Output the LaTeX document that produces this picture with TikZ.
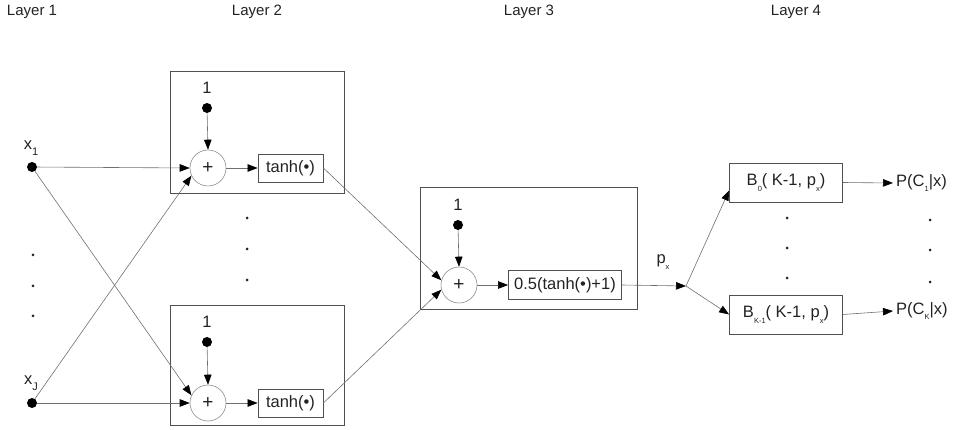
\documentclass[tikz,border=0pt]{standalone}
\usepackage{fontspec}
\setmainfont{Liberation Sans}
\usetikzlibrary{arrows.meta}
\newcommand\xsub[1]{\raisebox{-0.7ex}{\fontsize{11}{10}\selectfont #1}}
\newcommand\tsub[1]{\raisebox{-0.6ex}{\fontsize{7.5}{7}\selectfont #1}}
\definecolor{ln}{HTML}{707070}
\definecolor{fr}{HTML}{505050}
\definecolor{tx}{HTML}{222222}
\begin{document}
\begin{tikzpicture}[x=1pt,y=-1pt,
  lbl/.style={inner sep=0pt,text=tx,font=\fontsize{15}{17}\selectfont},
  big/.style={inner sep=0pt,text=tx,font=\fontsize{16.5}{18}\selectfont},
  bigdot/.style={circle,fill=black,inner sep=0pt,minimum size=10pt},
  smalldot/.style={circle,fill=tx,inner sep=0pt,minimum size=3pt},
  frame/.style={draw=fr,line width=0.9pt,inner sep=0pt},
  sumc/.style={circle,draw=ln!80,line width=0.6pt,inner sep=0pt,minimum size=36pt,text=tx,font=\fontsize{19}{20}\selectfont},
  fbox/.style={draw=fr,line width=0.8pt,inner sep=0pt,text=tx,font=\fontsize{16.5}{18}\selectfont},
  conn/.style={draw=ln,line width=0.6pt,-{Triangle[length=10pt,width=7.5pt,color=black]}},
  plain/.style={draw=ln,line width=0.6pt}]
\useasboundingbox (0,0) rectangle (962,430);
% layer titles
\node[lbl] (L1) at (32,12) {Layer 1};
\node[lbl] (L2) at (257,12) {Layer 2};
\node[lbl] (L3) at (529,12) {Layer 3};
\node[lbl] (L4) at (796,12) {Layer 4};
% layer 1
\node[big] (x1l) at (31,148) {x\xsub{1}};
\node[bigdot] (x1) at (32,167) {};
\node[big] (xJl) at (31,383) {x\xsub{J}};
\node[bigdot] (xJ) at (32,403) {};
\node[smalldot] (d1a) at (33,255) {};
\node[smalldot] (d1b) at (33,286) {};
\node[smalldot] (d1c) at (33,316) {};
% layer 2 top
\node[frame,minimum width=174pt,minimum height=122pt] (boxA) at (257,132) {};
\node[big] (oneA) at (207,88) {1};
\node[bigdot] (bA) at (207,108) {};
\node[sumc] (sA) at (208,168) {+};
\node[fbox,minimum width=65pt,minimum height=28pt] (tA) at (290.5,168) {tanh(•)};
% layer 2 bottom
\node[frame,minimum width=174pt,minimum height=120pt] (boxB) at (257,365) {};
\node[big] (oneB) at (207,322) {1};
\node[bigdot] (bB) at (207,342) {};
\node[sumc] (sB) at (208,403) {+};
\node[fbox,minimum width=65pt,minimum height=28pt] (tB) at (290.5,403) {tanh(•)};
\node[smalldot] (d2a) at (247,218) {};
\node[smalldot] (d2b) at (247,249) {};
\node[smalldot] (d2c) at (247,280) {};
% layer 3
\node[frame,minimum width=217pt,minimum height=122pt] (boxC) at (528.5,248) {};
\node[big] (oneC) at (458,205) {1};
\node[bigdot] (bC) at (458,225) {};
\node[sumc] (sC) at (459,285) {+};
\node[fbox,minimum width=113pt,minimum height=29pt] (fC) at (565,285) {0.5(tanh(•)+1)};
\coordinate (split) at (686,286);
\node[big] (px) at (663,262) {p\tsub{x}};
% layer 4
\node[fbox,minimum width=113pt,minimum height=39pt] (B0) at (786,182.5) {B\tsub{0}( K-1, p\tsub{x})};
\node[fbox,minimum width=113pt,minimum height=39pt] (BK) at (786,314.5) {B\tsub{K-1}( K-1, p\tsub{x})};
\node[big,anchor=west] (P1) at (896,183) {P(C\tsub{1}|x)};
\node[big,anchor=west] (PK) at (896,311) {P(C\tsub{K}|x)};
\node[smalldot] (d4a) at (787,218) {};
\node[smalldot] (d4b) at (787,248) {};
\node[smalldot] (d4c) at (787,278) {};
\node[smalldot] (d5a) at (930,220) {};
\node[smalldot] (d5b) at (930,250) {};
\node[smalldot] (d5c) at (930,282) {};
% connectors
\draw[conn] (x1) -- (sA.west);
\draw[conn] (x1) -- (sB.155);
\draw[conn] (xJ) -- (sA.205);
\draw[conn] (xJ) -- (sB.west);
\draw[conn] (bA) -- (sA.north);
\draw[conn] (bB) -- (sB.north);
\draw[conn] (bC) -- (sC.north);
\draw[conn] (sA) -- (tA);
\draw[conn] (sB) -- (tB);
\draw[conn] (sC) -- (fC);
\draw[conn] (tA.east) -- (sC.165);
\draw[conn] (tB.east) -- (sC.195);
\draw[conn] (fC.east) -- (split);
\draw[conn] (split) -- ([yshift=-8pt]B0.west);
\draw[conn] (split) -- (BK.west);
\draw[conn] (B0.east) -- ([xshift=-3pt]P1.west);
\draw[conn] (BK.east) -- ([xshift=-3pt]PK.west);
\end{tikzpicture}
\end{document}
